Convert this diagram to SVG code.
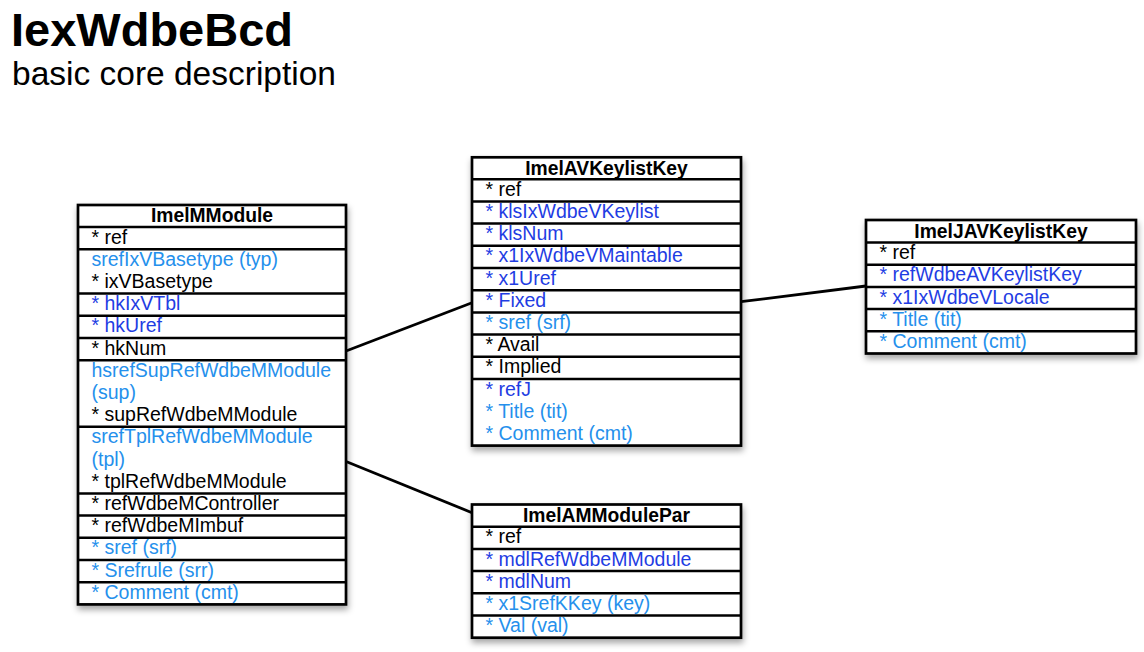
<svg xmlns="http://www.w3.org/2000/svg" width="1144" height="652" viewBox="0 0 1144 652">
<style>
text{font-family:"Liberation Sans",Arial,Helvetica,sans-serif;font-size:19.5px;fill:#000}
.title{font-size:47px;font-weight:bold}
.sub{font-size:33.5px}
.hd{font-weight:bold;text-anchor:middle;font-size:19.3px}
.lb{fill:#2590ec}
.db{fill:#1f3de3}
.box{fill:#fff;stroke:#000;stroke-width:2.7}
.sep{stroke:#000;stroke-width:2.5}
.con{stroke:#000;stroke-width:2.8;fill:none}
</style>
<defs>
<filter id="sh" x="-10%" y="-10%" width="125%" height="125%">
<feDropShadow dx="1" dy="4" stdDeviation="3" flood-color="#000" flood-opacity="0.35"/>
</filter>
</defs>
<rect width="1144" height="652" fill="#fff"/>
<text class="title" x="11" y="46">IexWdbeBcd</text>
<text class="sub" x="12" y="85">basic core description</text>

<g id="connectors">
<line class="con" x1="346.7" y1="350.7" x2="472" y2="302.7"/>
<line class="con" x1="741" y1="301.7" x2="866" y2="286"/>
<line class="con" x1="346.7" y1="461.7" x2="472" y2="512.7"/>
</g>

<g id="ImelMModule">
<rect class="box" filter="url(#sh)" x="78" y="205" width="268" height="399.4"/>
<g class="sep">
<line x1="78" y1="227" x2="346" y2="227"/>
<line x1="78" y1="249.2" x2="346" y2="249.2"/>
<line x1="78" y1="293.6" x2="346" y2="293.6"/>
<line x1="78" y1="315.8" x2="346" y2="315.8"/>
<line x1="78" y1="338" x2="346" y2="338"/>
<line x1="78" y1="360.2" x2="346" y2="360.2"/>
<line x1="78" y1="426.8" x2="346" y2="426.8"/>
<line x1="78" y1="493.4" x2="346" y2="493.4"/>
<line x1="78" y1="515.6" x2="346" y2="515.6"/>
<line x1="78" y1="537.8" x2="346" y2="537.8"/>
<line x1="78" y1="560" x2="346" y2="560"/>
<line x1="78" y1="582.2" x2="346" y2="582.2"/>
</g>
<text class="hd" x="212" y="221.5">ImelMModule</text>
<text x="91.5" y="243.6">* ref</text>
<text class="lb" x="91.5" y="265.8">srefIxVBasetype (typ)</text>
<text x="91.5" y="288">* ixVBasetype</text>
<text class="db" x="91.5" y="310.2">* hkIxVTbl</text>
<text class="db" x="91.5" y="332.4">* hkUref</text>
<text x="91.5" y="354.6">* hkNum</text>
<text class="lb" x="91.5" y="376.8">hsrefSupRefWdbeMModule</text>
<text class="lb" x="91.5" y="399">(sup)</text>
<text x="91.5" y="421.2">* supRefWdbeMModule</text>
<text class="lb" x="91.5" y="443.4">srefTplRefWdbeMModule</text>
<text class="lb" x="91.5" y="465.6">(tpl)</text>
<text x="91.5" y="487.8">* tplRefWdbeMModule</text>
<text x="91.5" y="510">* refWdbeMController</text>
<text x="91.5" y="532.2">* refWdbeMImbuf</text>
<text class="lb" x="91.5" y="554.4">* sref (srf)</text>
<text class="lb" x="91.5" y="576.6">* Srefrule (srr)</text>
<text class="lb" x="91.5" y="598.8">* Comment (cmt)</text>
</g>

<g id="ImelAVKeylistKey">
<rect class="box" filter="url(#sh)" x="472" y="157.3" width="269" height="288.3"/>
<g class="sep">
<line x1="472" y1="179.2" x2="741" y2="179.2"/>
<line x1="472" y1="201.4" x2="741" y2="201.4"/>
<line x1="472" y1="223.6" x2="741" y2="223.6"/>
<line x1="472" y1="245.8" x2="741" y2="245.8"/>
<line x1="472" y1="268" x2="741" y2="268"/>
<line x1="472" y1="290.2" x2="741" y2="290.2"/>
<line x1="472" y1="312.4" x2="741" y2="312.4"/>
<line x1="472" y1="334.6" x2="741" y2="334.6"/>
<line x1="472" y1="356.8" x2="741" y2="356.8"/>
<line x1="472" y1="379" x2="741" y2="379"/>
</g>
<text class="hd" x="606.5" y="174.8">ImelAVKeylistKey</text>
<text x="485.5" y="195.8">* ref</text>
<text class="db" x="485.5" y="218">* klsIxWdbeVKeylist</text>
<text class="db" x="485.5" y="240.2">* klsNum</text>
<text class="db" x="485.5" y="262.4">* x1IxWdbeVMaintable</text>
<text class="db" x="485.5" y="284.6">* x1Uref</text>
<text class="db" x="485.5" y="306.8">* Fixed</text>
<text class="lb" x="485.5" y="329">* sref (srf)</text>
<text x="485.5" y="351.2">* Avail</text>
<text x="485.5" y="373.4">* Implied</text>
<text class="db" x="485.5" y="395.6">* refJ</text>
<text class="lb" x="485.5" y="417.8">* Title (tit)</text>
<text class="lb" x="485.5" y="440">* Comment (cmt)</text>
</g>

<g id="ImelJAVKeylistKey">
<rect class="box" filter="url(#sh)" x="866" y="220" width="270" height="133.5"/>
<g class="sep">
<line x1="866" y1="242.5" x2="1136" y2="242.5"/>
<line x1="866" y1="264.7" x2="1136" y2="264.7"/>
<line x1="866" y1="286.9" x2="1136" y2="286.9"/>
<line x1="866" y1="309.1" x2="1136" y2="309.1"/>
<line x1="866" y1="331.3" x2="1136" y2="331.3"/>
</g>
<text class="hd" x="1001" y="237.8">ImelJAVKeylistKey</text>
<text x="879.5" y="259.1">* ref</text>
<text class="db" x="879.5" y="281.3">* refWdbeAVKeylistKey</text>
<text class="db" x="879.5" y="303.5">* x1IxWdbeVLocale</text>
<text class="lb" x="879.5" y="325.7">* Title (tit)</text>
<text class="lb" x="879.5" y="347.9">* Comment (cmt)</text>
</g>

<g id="ImelAMModulePar">
<rect class="box" filter="url(#sh)" x="472" y="504.5" width="269" height="133.2"/>
<g class="sep">
<line x1="472" y1="526.7" x2="741" y2="526.7"/>
<line x1="472" y1="548.9" x2="741" y2="548.9"/>
<line x1="472" y1="571.1" x2="741" y2="571.1"/>
<line x1="472" y1="593.3" x2="741" y2="593.3"/>
<line x1="472" y1="615.5" x2="741" y2="615.5"/>
</g>
<text class="hd" x="606.5" y="522">ImelAMModulePar</text>
<text x="485.5" y="543.3">* ref</text>
<text class="db" x="485.5" y="565.5">* mdlRefWdbeMModule</text>
<text class="db" x="485.5" y="587.7">* mdlNum</text>
<text class="lb" x="485.5" y="609.9">* x1SrefKKey (key)</text>
<text class="lb" x="485.5" y="632.1">* Val (val)</text>
</g>
</svg>
